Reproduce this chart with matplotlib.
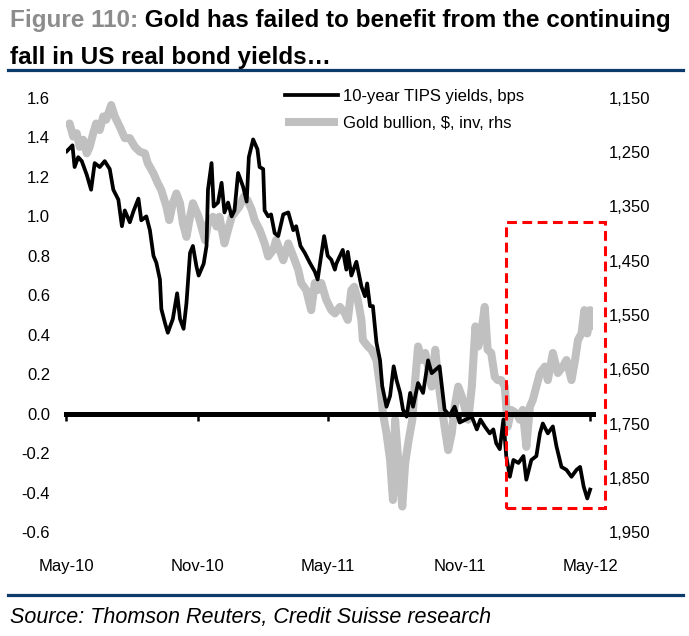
import matplotlib
matplotlib.use("Agg")
import matplotlib.pyplot as plt
import matplotlib.dates as mdates
from matplotlib import font_manager as fm
from matplotlib.lines import Line2D
from matplotlib.patches import Rectangle
from matplotlib.ticker import FuncFormatter, FixedLocator
import pandas as pd

# ---------------- data ----------------
tips_dates = [
    "2010-05-02", "2010-05-10", "2010-05-13", "2010-05-18", "2010-05-23", "2010-05-30",
    "2010-06-05", "2010-06-10", "2010-06-17", "2010-06-24", "2010-07-01", "2010-07-06",
    "2010-07-13", "2010-07-18", "2010-07-22", "2010-07-29", "2010-08-03", "2010-08-10",
    "2010-08-14", "2010-08-21", "2010-08-26", "2010-08-31", "2010-09-04", "2010-09-09",
    "2010-09-11", "2010-09-16", "2010-09-20", "2010-09-27", "2010-10-03", "2010-10-07",
    "2010-10-12", "2010-10-16", "2010-10-21", "2010-10-25", "2010-10-30", "2010-11-02",
    "2010-11-09", "2010-11-13", "2010-11-15", "2010-11-20", "2010-11-23", "2010-11-29",
    "2010-12-04", "2010-12-08", "2010-12-13", "2010-12-18", "2010-12-22", "2010-12-27",
    "2011-01-03", "2011-01-08", "2011-01-11", "2011-01-17", "2011-01-23", "2011-01-26",
    "2011-01-31", "2011-02-02", "2011-02-07", "2011-02-11", "2011-02-16", "2011-02-21",
    "2011-02-28", "2011-03-07", "2011-03-14", "2011-03-18", "2011-03-24", "2011-03-30",
    "2011-04-06", "2011-04-13", "2011-04-17", "2011-04-21", "2011-04-26", "2011-05-01",
    "2011-05-06", "2011-05-11", "2011-05-13", "2011-05-22", "2011-05-27", "2011-05-29",
    "2011-06-03", "2011-06-10", "2011-06-17", "2011-06-22", "2011-06-25", "2011-06-29",
    "2011-07-03", "2011-07-08", "2011-07-13", "2011-07-16", "2011-07-22", "2011-07-27",
    "2011-08-01", "2011-08-05", "2011-08-10", "2011-08-14", "2011-08-19", "2011-08-24",
    "2011-08-28", "2011-09-04", "2011-09-11", "2011-09-18", "2011-09-23", "2011-10-04",
    "2011-10-11", "2011-10-18", "2011-10-25", "2011-11-01", "2011-11-18", "2011-11-25",
    "2011-11-30", "2011-12-06", "2011-12-13", "2011-12-18", "2011-12-22", "2011-12-27",
    "2012-01-01", "2012-01-05", "2012-01-10", "2012-01-15", "2012-01-22", "2012-01-29",
    "2012-02-02", "2012-02-09", "2012-02-16", "2012-02-21", "2012-02-25", "2012-03-03",
    "2012-03-10", "2012-03-15", "2012-03-22", "2012-03-29", "2012-04-05", "2012-04-12",
    "2012-04-17", "2012-04-22", "2012-04-27", "2012-05-01",
]
tips_values = [
    1.33, 1.36, 1.25, 1.30, 1.28, 1.21,
    1.135, 1.27, 1.25, 1.28, 1.24, 1.135,
    1.085, 0.95, 1.03, 0.97, 1.025, 1.09,
    0.98, 1.00, 0.93, 0.80, 0.765, 0.68,
    0.53, 0.46, 0.41, 0.48, 0.61, 0.48,
    0.43, 0.56, 0.815, 0.85, 0.745, 0.70,
    0.76, 0.85, 1.135, 1.27, 1.05, 1.07,
    1.17, 1.02, 1.07, 1.00, 1.03, 1.22,
    1.15, 1.075, 1.30, 1.39, 1.34, 1.25,
    1.24, 1.03, 1.00, 1.01, 0.915, 0.90,
    1.01, 1.02, 0.93, 0.95, 0.85, 0.815,
    0.765, 0.72, 0.68, 0.78, 0.90, 0.80,
    0.78, 0.73, 0.76, 0.83, 0.73, 0.82,
    0.70, 0.77, 0.645, 0.595, 0.66, 0.545,
    0.545, 0.36, 0.27, 0.14, 0.035, 0.09,
    0.24, 0.17, 0.105, 0.02, -0.015, 0.105,
    0.035, 0.155, 0.105, 0.27, 0.205, 0.24,
    0.02, -0.01, 0.035, -0.045, -0.015, -0.08,
    -0.03, -0.065, -0.10, -0.08, -0.15, -0.18,
    -0.03, -0.215, -0.32, -0.235, -0.25, -0.215,
    -0.335, -0.235, -0.215, -0.10, -0.05, -0.10,
    -0.065, -0.165, -0.27, -0.285, -0.32, -0.285,
    -0.27, -0.37, -0.43, -0.385,
]

gold_dates = [
    "2010-05-02", "2010-05-06", "2010-05-11", "2010-05-16", "2010-05-20", "2010-05-25",
    "2010-05-30", "2010-06-03", "2010-06-08", "2010-06-12", "2010-06-17", "2010-06-22",
    "2010-06-26", "2010-07-03", "2010-07-08", "2010-07-15", "2010-07-22", "2010-07-29",
    "2010-08-05", "2010-08-12", "2010-08-19", "2010-08-23", "2010-08-31", "2010-09-06",
    "2010-09-11", "2010-09-18", "2010-09-22", "2010-09-27", "2010-10-02", "2010-10-07",
    "2010-10-11", "2010-10-16", "2010-10-21", "2010-10-25", "2010-11-02", "2010-11-07",
    "2010-11-11", "2010-11-15", "2010-11-22", "2010-11-27", "2010-12-01", "2010-12-08",
    "2010-12-13", "2010-12-18", "2010-12-22", "2010-12-29", "2011-01-04", "2011-01-09",
    "2011-01-15", "2011-01-19", "2011-01-26", "2011-02-02", "2011-02-07", "2011-02-14",
    "2011-02-18", "2011-02-23", "2011-02-28", "2011-03-07", "2011-03-14", "2011-03-21",
    "2011-03-25", "2011-04-01", "2011-04-08", "2011-04-13", "2011-04-17", "2011-04-22",
    "2011-04-29", "2011-05-06", "2011-05-11", "2011-05-18", "2011-05-25", "2011-05-29",
    "2011-06-03", "2011-06-07", "2011-06-12", "2011-06-17", "2011-06-19", "2011-06-26",
    "2011-07-01", "2011-07-08", "2011-07-13", "2011-07-17", "2011-07-22", "2011-07-27",
    "2011-07-31", "2011-08-03", "2011-08-08", "2011-08-13", "2011-08-17", "2011-08-22",
    "2011-08-27", "2011-08-31", "2011-09-04", "2011-09-09", "2011-09-14", "2011-09-18",
    "2011-09-23", "2011-09-28", "2011-10-02", "2011-10-07", "2011-10-11", "2011-10-16",
    "2011-10-21", "2011-10-25", "2011-10-30", "2011-11-04", "2011-11-09", "2011-11-13",
    "2011-11-18", "2011-11-23", "2011-11-27", "2011-12-01", "2011-12-06", "2011-12-10",
    "2011-12-15", "2011-12-20", "2011-12-24", "2011-12-29", "2012-01-03", "2012-01-07",
    "2012-01-12", "2012-01-19", "2012-01-24", "2012-01-28", "2012-02-02", "2012-02-07",
    "2012-02-11", "2012-02-16", "2012-02-21", "2012-02-28", "2012-03-03", "2012-03-10",
    "2012-03-17", "2012-03-24", "2012-03-29", "2012-04-05", "2012-04-10", "2012-04-14",
    "2012-04-19", "2012-04-23", "2012-04-27", "2012-05-01", "2012-05-03",
]
gold_values = [
    1203, 1197, 1221, 1215, 1240, 1227,
    1252, 1240, 1215, 1197, 1209, 1184,
    1190, 1163, 1184, 1203, 1224, 1224,
    1240, 1249, 1252, 1270, 1289, 1307,
    1320, 1350, 1375, 1344, 1326, 1344,
    1381, 1406, 1369, 1344, 1369, 1393,
    1412, 1381, 1369, 1387, 1369, 1418,
    1393, 1369, 1362, 1350, 1332, 1338,
    1356, 1375, 1393, 1418, 1442, 1430,
    1412, 1430, 1449, 1418, 1442, 1467,
    1491, 1504, 1541, 1491, 1504, 1491,
    1522, 1541, 1547, 1535, 1547, 1559,
    1504, 1498, 1522, 1559, 1596, 1608,
    1614, 1633, 1682, 1731, 1768, 1817,
    1891, 1743, 1829, 1903, 1823, 1780,
    1743, 1670, 1608, 1633, 1620, 1645,
    1682, 1614, 1670, 1719, 1756, 1799,
    1768, 1719, 1682, 1700, 1725, 1743,
    1682, 1571, 1608, 1584, 1535, 1614,
    1620, 1664, 1670, 1670, 1682, 1756,
    1725, 1731, 1743, 1725, 1793, 1719,
    1707, 1682, 1657, 1645, 1670, 1620,
    1657, 1645, 1633, 1670, 1633, 1596,
    1584, 1541, 1584, 1541, 1578,
]

left_ticks = [-0.6, -0.4, -0.2, 0.0, 0.2, 0.4, 0.6, 0.8, 1.0, 1.2, 1.4, 1.6]
right_ticks = [1150, 1250, 1350, 1450, 1550, 1650, 1750, 1850, 1950]
x_tick_dates = ["2010-05-01", "2010-11-01", "2011-05-01", "2011-11-01", "2012-05-01"]
x_tick_labels = ["May-10", "Nov-10", "May-11", "Nov-11", "May-12"]
highlight_start, highlight_end = "2012-01-04", "2012-05-22"
highlight_low, highlight_high = -0.48, 0.97

series_labels = ["10-year TIPS yields, bps", "Gold bullion, $, inv, rhs"]
title_grey = "Figure 110:"
title_rest = " Gold has failed to benefit from the continuing"
title_line2 = "fall in US real bond yields\u2026"
source_text = "Source: Thomson Reuters, Credit Suisse research"

# ---------------- fonts ----------------
plt.rcParams["axes.unicode_minus"] = False
names = {f.name for f in fm.fontManager.ttflist}
if "Liberation Sans Narrow" in names:
    narrow, nsize = "Liberation Sans Narrow", 14
else:
    narrow, nsize = "Liberation Sans", 12
wide = "Liberation Sans"

W, H = 689, 636
fig = plt.figure(figsize=(W / 100, H / 100), dpi=100)

def fx(px):
    return px / W

def fy(py):
    return 1 - py / H

# axes occupies px x 66..593, y 98..532
ax = fig.add_axes([fx(66), fy(532), (593 - 66) / W, (532 - 98) / H])
ax2 = ax.twinx()

t_dates = pd.to_datetime(tips_dates)
g_dates = pd.to_datetime(gold_dates)

ax2.plot(g_dates, gold_values, color="#c0c0c0", lw=5.8, solid_joinstyle="round",
         solid_capstyle="butt", label=series_labels[1], zorder=2)
ax.plot(t_dates, tips_values, color="black", lw=2.7, solid_joinstyle="round",
        label=series_labels[0], zorder=3)

ax.set_zorder(ax2.get_zorder() + 1)
ax.patch.set_visible(False)

ax.set_xlim(pd.Timestamp("2010-05-01"), pd.Timestamp("2012-05-05"))
ax.set_ylim(-0.6, 1.6)
ax2.set_ylim(1950, 1150)

# spines
for a in (ax, ax2):
    for s in ("top", "left", "right"):
        a.spines[s].set_visible(False)
ax2.spines["bottom"].set_visible(False)
ax.spines["bottom"].set_position(("data", 0))
ax.spines["bottom"].set_linewidth(3.6)
ax.spines["bottom"].set_zorder(1)

# x ticks
ax.xaxis.set_major_locator(FixedLocator(mdates.date2num(pd.to_datetime(x_tick_dates))))
ax.set_xticklabels(x_tick_labels)
ax.tick_params(axis="x", direction="out", length=5, width=1.8, pad=100,
               labelsize=nsize, labelfontfamily=narrow, colors="black")

# y ticks
ax.set_yticks(left_ticks)
ax.yaxis.set_major_formatter(FuncFormatter(lambda v, p: f"{v:.1f}"))
ax.tick_params(axis="y", length=0, pad=11.5, labelsize=nsize, labelfontfamily=narrow)
ax2.set_yticks(right_ticks)
ax2.yaxis.set_major_formatter(FuncFormatter(lambda v, p: f"{v:,.0f}"))
ax2.tick_params(axis="y", length=0, pad=11, labelsize=nsize, labelfontfamily=narrow)

# highlight box
x0 = mdates.date2num(pd.Timestamp(highlight_start))
x1 = mdates.date2num(pd.Timestamp(highlight_end))
rect = Rectangle((x0, highlight_low), x1 - x0, highlight_high - highlight_low,
                 fill=False, edgecolor="#ff0000", lw=2.2, linestyle=(0, (3.2, 1.8)),
                 clip_on=False, zorder=5)
ax.add_patch(rect)

# legend
h1, l1 = ax.get_legend_handles_labels()
h2, l2 = ax2.get_legend_handles_labels()
leg = ax.legend(h1 + h2, l1 + l2, loc="upper left",
                bbox_to_anchor=(fx(285), fy(89)), bbox_transform=fig.transFigure,
                frameon=False, borderpad=0, borderaxespad=0, handlelength=3.2,
                handletextpad=0.3, labelspacing=0.7,
                prop={"family": narrow, "size": nsize})

# title
TS = 17.5
t1 = fig.text(fx(10), fy(26.7), title_grey, color="#8c8c8c", fontweight="bold",
              fontsize=TS, family=wide, va="baseline", ha="left")
ax.annotate(title_rest, xy=(1, 0), xycoords=t1, va="bottom", ha="left",
            fontweight="bold", fontsize=TS, family=wide, color="black",
            annotation_clip=False)
fig.text(fx(10), fy(64), title_line2, color="black", fontweight="bold",
         fontsize=TS, family=wide, va="baseline", ha="left")

# rules
fig.add_artist(Line2D([fx(8), fx(683)], [fy(70), fy(70)], color="#0b3a6b", lw=2.3))
fig.add_artist(Line2D([fx(8), fx(683)], [fy(594.5), fy(594.5)], color="#0b3a6b", lw=2.3))

# source
fig.text(fx(10), fy(622.5), source_text, fontstyle="italic", fontsize=15.5,
         family=wide, va="baseline", ha="left", color="black")

fig.savefig("out.png", dpi=100)
